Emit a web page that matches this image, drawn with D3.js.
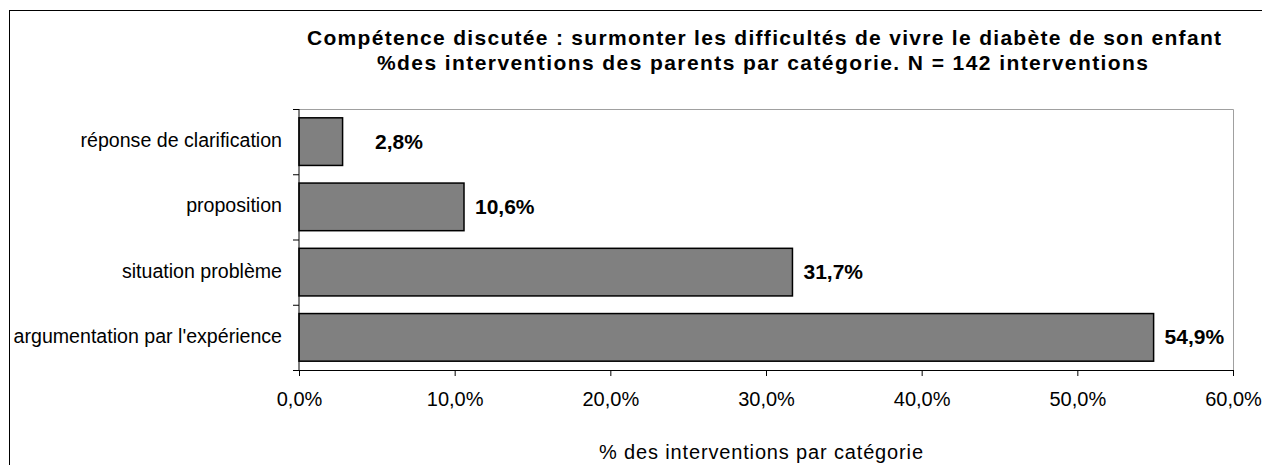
<!DOCTYPE html>
<html><head><meta charset="utf-8">
<script src="https://cdn.jsdelivr.net/npm/d3@7"></script>
<style>body{margin:0;background:#fff;} svg{display:block;font-family:"Liberation Sans",Arial,sans-serif;}</style>
</head><body>
<svg id="c" width="1262" height="465"></svg>
<script>
const categories = ["réponse de clarification", "proposition", "situation problème", "argumentation par l'expérience"];
const values = [2.8, 10.6, 31.7, 54.9];
const valueLabels = ["2,8%", "10,6%", "31,7%", "54,9%"];
const xTicks = [0, 10, 20, 30, 40, 50, 60];
const titleLines = ["Compétence discutée : surmonter les difficultés de vivre le diabète de son enfant", "%des interventions des parents par catégorie. N = 142 interventions"];
const xTitle = "% des interventions par catégorie";

const svg = d3.select("#c");
// outer frame
svg.append("rect").attr("x", 9.5).attr("y", 10.5).attr("width", 1300).attr("height", 500)
  .attr("fill", "none").attr("stroke", "#000").attr("stroke-width", 1);

const L = 299, R = 1233, T = 109, B = 370;
const x = d3.scaleLinear().domain([0, 60]).range([L, R]);
const y = d3.scaleBand().domain(categories).range([T, B]).paddingInner(0.27).paddingOuter(0.135);
const yb = d3.scaleBand().domain(categories).range([T, B]);

// plot area border (gray top/right)
svg.append("path").attr("d", `M${L},${T + 0.5}H${R + 0.5}V${B}`).attr("fill", "none").attr("stroke", "#a0a0a0").attr("stroke-width", 1);

// bars
svg.selectAll("rect.bar").data(categories).join("rect").attr("class", "bar")
  .attr("x", x(0)).attr("y", d => y(d)).attr("width", (d, i) => x(values[i]) - x(0)).attr("height", y.bandwidth())
  .attr("fill", "#808080").attr("stroke", "#000").attr("stroke-width", 1.5);

// y axis line and ticks at band boundaries
svg.append("line").attr("x1", L).attr("x2", L).attr("y1", T).attr("y2", B).attr("stroke", "#000").attr("stroke-width", 1);
const bounds = categories.map(c => yb(c)).concat([B]);
svg.selectAll("line.yt").data(bounds).join("line").attr("class", "yt")
  .attr("x1", L - 6).attr("x2", L).attr("y1", d => d + 0.5).attr("y2", d => d + 0.5).attr("stroke", "#000");
svg.selectAll("text.cat").data(categories).join("text").attr("class", "cat")
  .attr("x", 282).attr("y", d => yb(d) + yb.bandwidth() / 2 + 5.5)
  .attr("text-anchor", "end").attr("font-size", 19.6).attr("fill", "#000").text(d => d);

// x axis
const xAxis = d3.axisBottom(x).tickValues(xTicks).tickSize(6).tickFormat(d => d.toFixed(1).replace(".", ",") + "%");
const gx = svg.append("g").attr("transform", `translate(0,${B})`).call(xAxis);
gx.select(".domain").attr("d", `M${L - 6},0.5H${R}`).attr("stroke", "#000");
gx.selectAll(".tick line").attr("stroke", "#000");
gx.selectAll(".tick text").attr("font-size", 20).attr("font-family", "Liberation Sans, Arial, sans-serif")
  .attr("fill", "#000").attr("dy", null).attr("y", 36);

// value labels
svg.selectAll("text.val").data(categories).join("text").attr("class", "val")
  .attr("x", (d, i) => Math.max(x(values[i]) + 11, x(0) + 76))
  .attr("y", d => y(d) + y.bandwidth() / 2 + 7)
  .attr("font-size", 21).attr("font-weight", "bold").attr("fill", "#000").text((d, i) => valueLabels[i]);

// title
const titleWidths = [914, 771];
svg.selectAll("text.title").data(titleLines).join("text").attr("class", "title")
  .attr("x", (d, i) => [764, 762.5][i] - titleWidths[i] / 2).attr("y", (d, i) => 45 + i * 25)
  .attr("textLength", (d, i) => titleWidths[i]).attr("lengthAdjust", "spacing")
  .attr("font-size", 21).attr("font-weight", "bold").attr("fill", "#000").text(d => d);

svg.append("text").attr("x", 599).attr("y", 459).attr("textLength", 324).attr("lengthAdjust", "spacing")
  .attr("font-size", 20).attr("fill", "#000").text(xTitle);
</script>
</body></html>
